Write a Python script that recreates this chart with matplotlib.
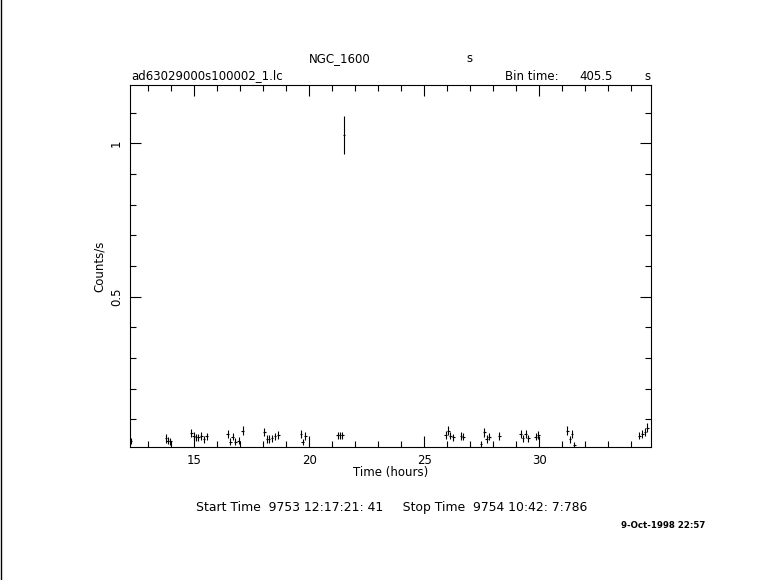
import numpy as np
import matplotlib
matplotlib.use('Agg')
import matplotlib.pyplot as plt
from matplotlib.ticker import MultipleLocator

# light curve bins (hours, counts/s)
t_hr = [12.25, 13.76, 13.84, 13.96, 14.87, 14.97, 15.07, 15.17, 15.30, 15.41,
        15.54, 16.45, 16.57, 16.67, 16.78, 16.93, 17.10, 18.04, 18.15, 18.25,
        18.37, 18.51, 18.65, 19.63, 19.71, 19.83, 21.23, 21.33, 21.43, 21.51,
        25.93, 26.04, 26.13, 26.26, 26.60, 26.70, 27.47, 27.61, 27.71, 27.83,
        28.26, 29.19, 29.30, 29.41, 29.52, 29.84, 29.96, 31.22, 31.34, 31.43,
        31.52, 34.35, 34.48, 34.60, 34.70]
rate = [0.030, 0.038, 0.030, 0.029, 0.055, 0.046, 0.041, 0.041, 0.046, 0.035,
        0.045, 0.052, 0.027, 0.044, 0.027, 0.031, 0.063, 0.059, 0.036, 0.036,
        0.038, 0.045, 0.048, 0.051, 0.026, 0.046, 0.048, 0.048, 0.048, 1.026,
        0.049, 0.063, 0.047, 0.041, 0.046, 0.044, 0.020, 0.058, 0.036, 0.044,
        0.046, 0.052, 0.038, 0.052, 0.038, 0.044, 0.049, 0.063, 0.035, 0.052,
        0.016, 0.047, 0.052, 0.059, 0.073]
rate_err = [0.010, 0.016, 0.011, 0.011, 0.014, 0.012, 0.012, 0.012, 0.012, 0.011,
            0.012, 0.013, 0.011, 0.012, 0.011, 0.011, 0.014, 0.014, 0.012, 0.012,
            0.012, 0.012, 0.013, 0.013, 0.011, 0.012, 0.012, 0.012, 0.012, 0.062,
            0.012, 0.014, 0.012, 0.012, 0.012, 0.012, 0.010, 0.014, 0.012, 0.012,
            0.012, 0.013, 0.012, 0.013, 0.012, 0.012, 0.013, 0.014, 0.012, 0.013,
            0.010, 0.012, 0.013, 0.014, 0.015]
bin_time = 405.5
t_err = bin_time / 3600. / 2.

fig = plt.figure(figsize=(7.81, 5.80), dpi=100)
ax = fig.add_axes([130/781., (580-447)/580., (651-130)/781., (447-85)/580.])

ax.errorbar(t_hr, rate, xerr=t_err, yerr=rate_err, fmt='none',
            ecolor='black', elinewidth=0.8, capsize=0)

ax.set_xlim(12.2, 34.86)
ax.set_ylim(0.01, 1.19)

ax.xaxis.set_major_locator(MultipleLocator(5))
ax.xaxis.set_minor_locator(MultipleLocator(1))
ax.yaxis.set_major_locator(MultipleLocator(0.5))
ax.yaxis.set_minor_locator(MultipleLocator(0.1))
ax.set_yticks([0.5, 1])
ax.set_yticklabels(['0.5', '1'], rotation=90, va='center')
ax.tick_params(which='both', direction='in', top=True, right=True,
               width=0.8, labelsize=8.5)
ax.tick_params(which='major', length=8, pad=5)
ax.tick_params(which='minor', length=4)
for s in ax.spines.values():
    s.set_linewidth(0.8)

ax.set_xlabel('Time (hours)', fontsize=8.5, labelpad=-1)
ax.set_ylabel('Counts/s', fontsize=8.5, labelpad=3)

fs = 8.5
fig.text(340/781., 1-59/580., 'NGC_1600', ha='center', va='center', fontsize=fs)
fig.text(469/781., 1-59/580., 's', ha='center', va='center', fontsize=fs)
fig.text(131/781., 1-76/580., 'ad63029000s100002_1.lc', ha='left', va='center', fontsize=fs)
fig.text(505/781., 1-76/580., 'Bin time:', ha='left', va='center', fontsize=fs)
fig.text(613/781., 1-76/580., '%.1f' % bin_time, ha='right', va='center', fontsize=fs)
fig.text(647/781., 1-76/580., 's', ha='center', va='center', fontsize=fs)
fig.text(196/781., 1-508/580.,
         'Start Time  9753 12:17:21: 41     Stop Time  9754 10:42: 7:786',
         ha='left', va='center', fontsize=8.9)
fig.text(705/781., 1-525/580., '9-Oct-1998 22:57', ha='right', va='center',
         fontsize=6.2, fontweight='bold')

# left border line of the page
fig.add_artist(plt.Line2D([0.5/781., 0.5/781.], [0, 1], color='black', lw=1,
                          transform=fig.transFigure))

fig.savefig('out.png', dpi=100)
